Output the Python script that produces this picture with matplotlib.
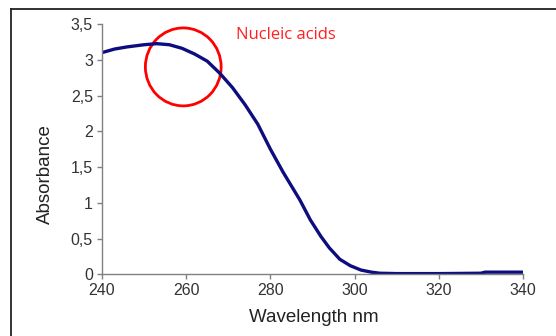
import numpy as np
import matplotlib
matplotlib.use('Agg')
import matplotlib.pyplot as plt
from matplotlib.patches import Ellipse
from matplotlib.lines import Line2D

# spectrum
wavelength = [240, 243, 246, 250, 253, 256, 259, 262, 265, 268, 271, 274, 277,
              280, 283, 287, 289.5, 292, 294, 296.5, 299, 301.5, 304, 306,
              310, 320, 330, 331, 340]
absorbance = [3.10, 3.15, 3.18, 3.21, 3.225, 3.21, 3.16, 3.08, 2.98, 2.81, 2.61, 2.37, 2.10,
              1.75, 1.43, 1.04, 0.76, 0.53, 0.37, 0.21, 0.12, 0.06, 0.03, 0.015,
              0.01, 0.01, 0.015, 0.03, 0.03]

xticks = [240, 260, 280, 300, 320, 340]
yticks = [0, 0.5, 1, 1.5, 2, 2.5, 3, 3.5]
ytick_labels = ['0', '0,5', '1', '1,5', '2', '2,5', '3', '3,5']

# marked region
circle_center = (259.3, 2.9)
note_text = 'Nucleic acids'

plt.rcParams['font.family'] = ['Liberation Sans', 'DejaVu Sans']

fig = plt.figure(figsize=(5.56, 3.36), dpi=100)
ax = fig.add_axes([0.1835, 0.1836, 0.757, 0.745])

ax.plot(wavelength, absorbance, color='#0d0d80', lw=2.4,
        solid_joinstyle='round')

ax.set_xlim(240, 340)
ax.set_ylim(0, 3.5)
ax.set_xticks(xticks)
ax.set_xticklabels([str(t) for t in xticks])
ax.set_yticks(yticks)
ax.set_yticklabels(ytick_labels)

for s in ['top', 'right']:
    ax.spines[s].set_visible(False)
for s in ['left', 'bottom']:
    ax.spines[s].set_color('#808080')
    ax.spines[s].set_linewidth(1.0)
ax.tick_params(direction='out', length=3.5, width=1.0, color='#808080',
               labelsize=11.5, labelcolor='#333333', pad=3)

ax.set_xlabel('Wavelength nm', fontsize=13.5, color='#222222')
ax.set_ylabel('Absorbance', fontsize=13.5, color='#222222')
ax.xaxis.set_label_coords(0.502, -0.14)
ax.yaxis.set_label_coords(-0.113, 0.40)

# red circle + note
ell = Ellipse(circle_center, width=18, height=1.09, fill=False,
              edgecolor='#ff0000', lw=2.0, clip_on=False)
ax.add_patch(ell)
ax.text(271.8, 3.35, note_text, color='#ff2020', fontsize=12,
        family=['Open Sans', 'DejaVu Sans'], ha='left', va='center')

# frame of the cropped slide
fig.add_artist(Line2D([11 / 556, 11 / 556], [0, 1 - 9 / 336], color='#222222', lw=1.3))
fig.add_artist(Line2D([11 / 556, 1], [1 - 9 / 336, 1 - 9 / 336], color='#222222', lw=1.3))

fig.savefig('out.png', dpi=100)
